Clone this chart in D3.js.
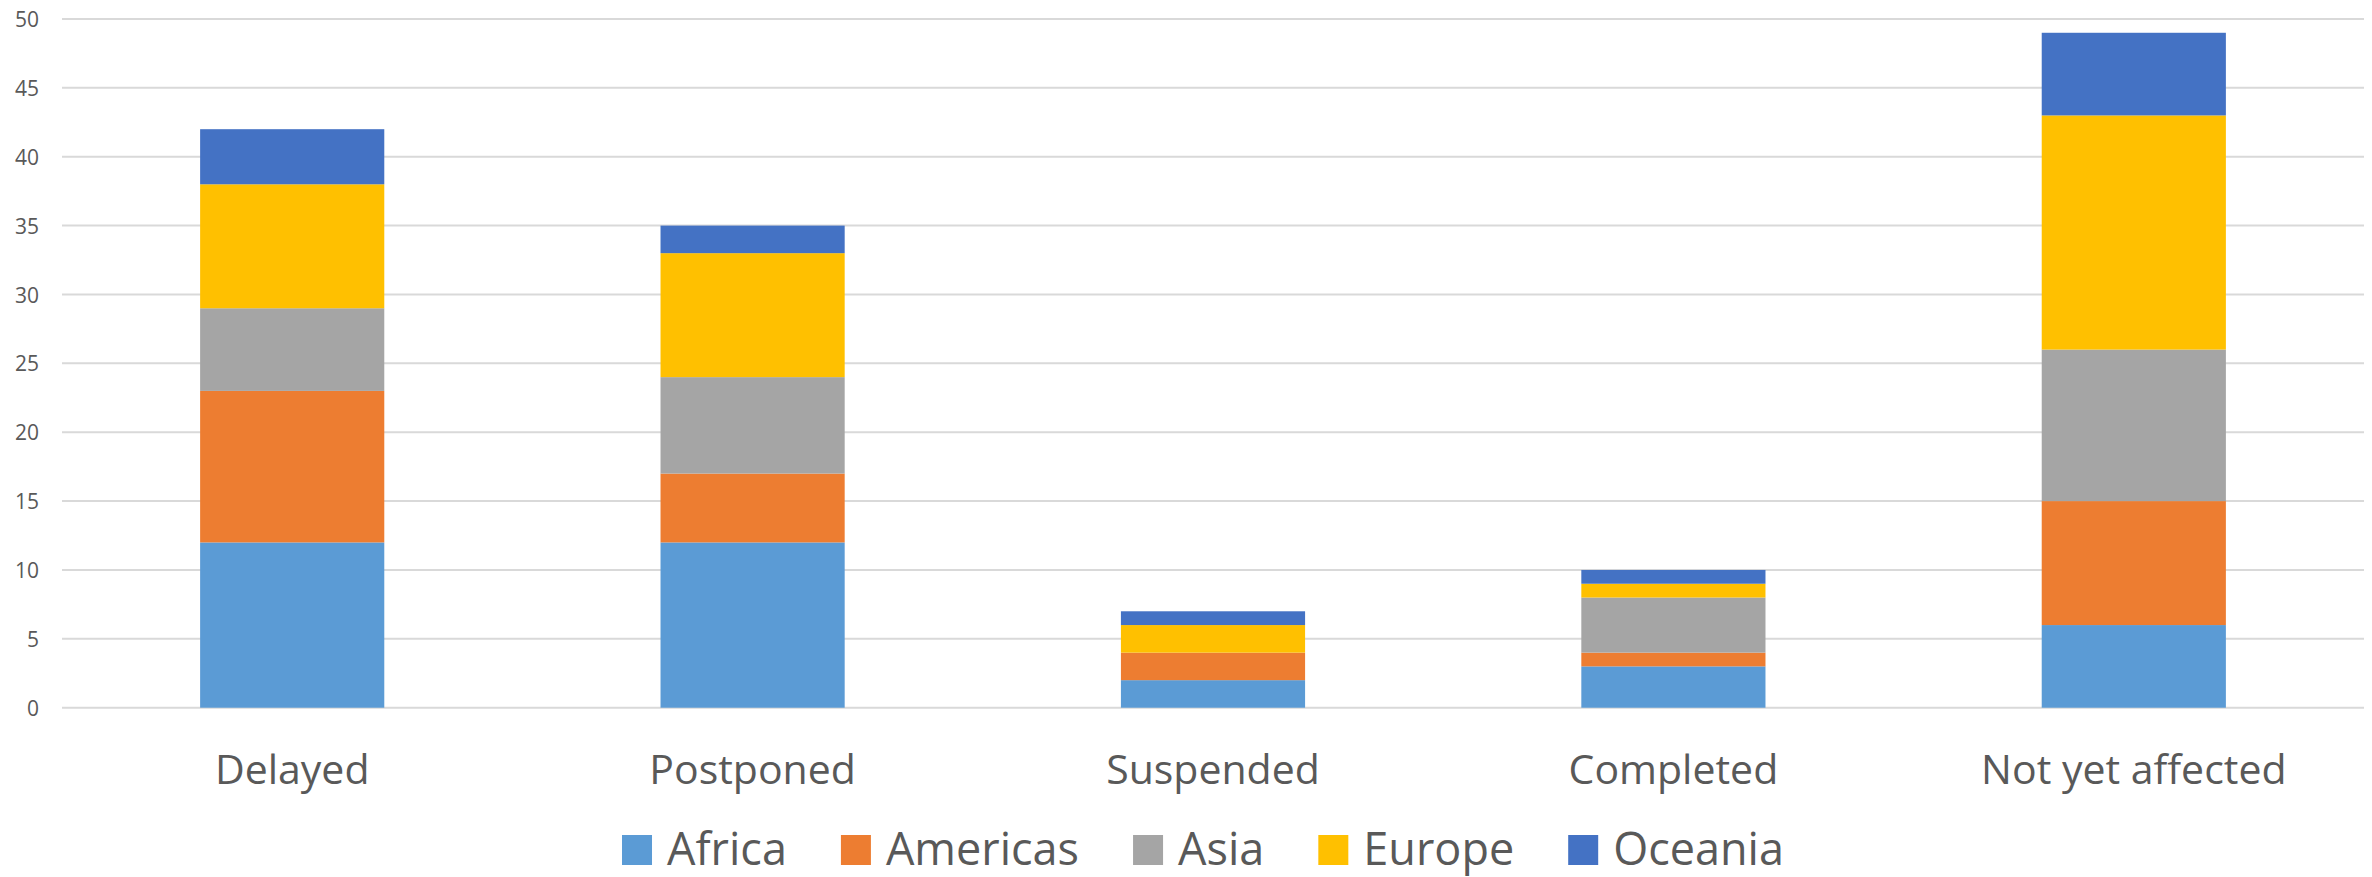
<!DOCTYPE html>
<html>
<head>
<meta charset="utf-8">
<script src="https://cdn.jsdelivr.net/npm/d3@7"></script>
<style>
  html, body { margin: 0; padding: 0; background: #ffffff; }
  svg { display: block; }
  text { font-family: "Open Sans", "Noto Sans", sans-serif; fill: #595959; }
</style>
</head>
<body>
<svg id="chart" width="2372" height="877"></svg>
<script>
// ---- data ----
const categories = ["Delayed", "Postponed", "Suspended", "Completed", "Not yet affected"];
const seriesNames = ["Africa", "Americas", "Asia", "Europe", "Oceania"];
const africa   = [12, 12, 2, 3, 6];
const americas = [11, 5, 2, 1, 9];
const asia     = [6, 7, 0, 4, 11];
const europe   = [9, 9, 2, 1, 17];
const oceania  = [4, 2, 1, 1, 6];
const yTicks = [0, 5, 10, 15, 20, 25, 30, 35, 40, 45, 50];
const colors = ["#5B9BD5", "#ED7D31", "#A5A5A5", "#FFC000", "#4472C4"];

const seriesValues = [africa, americas, asia, europe, oceania];
const rows = categories.map((c, i) => {
  const r = { category: c };
  seriesNames.forEach((s, j) => { r[s] = seriesValues[j][i]; });
  return r;
});

const svg = d3.select("#chart");
const plotLeft = 62, plotRight = 2364, plotTop = 19, plotBottom = 707.7;

const x = d3.scaleBand().domain(categories).range([plotLeft, plotRight])
  .paddingInner(0.6).paddingOuter(0.3);
const y = d3.scaleLinear().domain([0, 50]).range([plotBottom, plotTop]);

// gridlines
svg.append("g").selectAll("line").data(yTicks).join("line")
  .attr("x1", plotLeft).attr("x2", plotRight)
  .attr("y1", d => y(d)).attr("y2", d => y(d))
  .attr("stroke", "#d9d9d9").attr("stroke-width", 2);

// y axis labels
const yAxis = d3.axisLeft(y).tickValues(yTicks).tickSize(0).tickPadding(0);
const yg = svg.append("g").attr("transform", `translate(39,0)`).call(yAxis);
yg.select(".domain").remove();
yg.selectAll("text").attr("font-size", 21).attr("font-family", '"Open Sans", sans-serif')
  .attr("fill", "#595959").attr("dy", "0.36em");

// stacked bars
const stack = d3.stack().keys(seriesNames);
const stacked = stack(rows);
svg.append("g").selectAll("g").data(stacked).join("g")
  .attr("fill", (d, i) => colors[i])
  .selectAll("rect").data(d => d).join("rect")
  .attr("x", d => x(d.data.category))
  .attr("width", x.bandwidth())
  .attr("y", d => y(d[1]))
  .attr("height", d => Math.max(0, y(d[0]) - y(d[1])));

// x axis labels
const xAxis = d3.axisBottom(x).tickSize(0).tickPadding(0);
const xg = svg.append("g").attr("transform", `translate(0,${plotBottom})`).call(xAxis);
xg.select(".domain").remove();
xg.selectAll("text").attr("font-size", 41).attr("font-family", '"Open Sans", sans-serif')
  .attr("fill", "#595959").attr("dy", null).attr("y", 76);

// legend
const legendFont = 45, sw = 30, gapText = 15, gapItem = 54, legendCenter = 1203;
const legend = svg.append("g");
const items = legend.selectAll("g").data(seriesNames).join("g");
items.append("rect").attr("width", sw).attr("height", sw).attr("y", 835)
  .attr("fill", (d, i) => colors[i]);
items.append("text").attr("x", sw + gapText).attr("y", 865)
  .attr("font-size", legendFont).text(d => d);
let widths = [];
items.each(function() { widths.push(d3.select(this).select("text").node().getComputedTextLength()); });
const total = widths.reduce((a, w) => a + sw + gapText + w, 0) + gapItem * (widths.length - 1);
let cx = legendCenter - total / 2;
items.attr("transform", (d, i) => {
  const t = `translate(${cx},0)`;
  cx += sw + gapText + widths[i] + gapItem;
  return t;
});
</script>
</body>
</html>
